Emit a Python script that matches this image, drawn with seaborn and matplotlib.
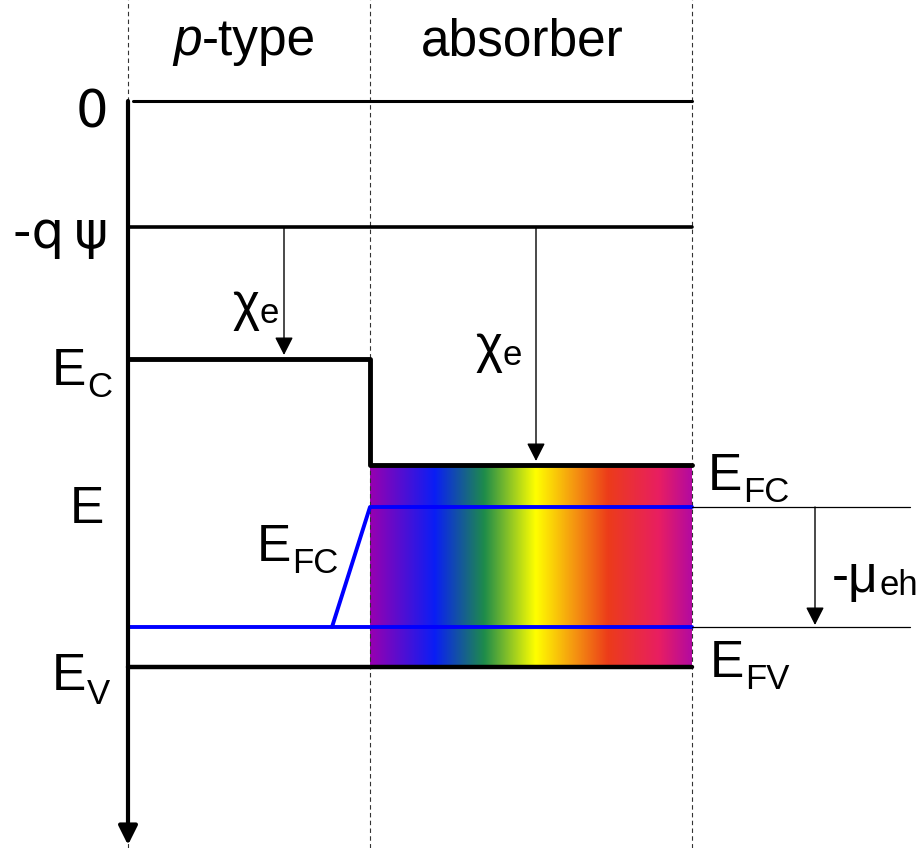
import numpy as np
import pandas as pd
import seaborn as sns
import matplotlib.pyplot as plt
from matplotlib.colors import LinearSegmentedColormap

# ---------------- data (arbitrary energy units, 0 = vacuum) ----------------
regions = ['p-type', 'absorber']
region_edges = [0.0, 2.42, 5.64]      # left edge, interface, right edge
vacuum = 0.0
psi_level = -1.26                     # -q psi
Ec = [-2.58, -3.64]                   # conduction band p-type, absorber
Ev = -5.66                            # valence band (flat)
EFC = -4.06                           # electron quasi Fermi level in absorber
EFV = -5.26                           # hole quasi Fermi level
efc_bend_x = 2.04                     # where EFC leaves EFV in p-type
mu_ext = 7.82                         # right end of thin mu lines
mu_arrow_x = 6.87
chi_x = [1.56, 4.08]                  # chi_e arrows
axis_bottom = -7.44

# rainbow of the absorber
grad_pos = [0.0, 0.20, 0.355, 0.515, 0.63, 0.74, 0.90, 1.0]
grad_col = ['#9800b0', '#0a1ef5', '#1e8c4a', '#ffff00', '#f59a10', '#ec3c1a', '#e81e62', '#b40aa0']

# ---------------- style ----------------
sns.set_style('white')
plt.rcParams['font.family'] = ['Liberation Sans', 'DejaVu Sans']
plt.rcParams['text.color'] = 'black'

fig = plt.figure(figsize=(9.21, 8.48), dpi=100)
ax = fig.add_axes([0, 0, 1, 1])
ax.set_xlim(-1.28, 7.93)
ax.set_ylim(-7.47, 1.01)
ax.axis('off')

x0, xi, x1 = region_edges

# segments for the band lines
segs = pd.DataFrame({
    'seg': ['vac', 'vac', 'psi', 'psi',
            'ec', 'ec', 'ec', 'ec',
            'ev', 'ev',
            'efv', 'efv',
            'efc', 'efc', 'efc',
            'mu1', 'mu1', 'mu2', 'mu2'],
    'x': [x0 + 0.05, x1, x0, x1,
          x0, xi, xi, x1,
          x0, x1,
          x0, x1,
          efc_bend_x, xi, x1,
          x1, mu_ext, x1, mu_ext],
    'E': [vacuum, vacuum, psi_level, psi_level,
          Ec[0], Ec[0], Ec[1], Ec[1],
          Ev, Ev,
          EFV, EFV,
          EFV, EFC, EFC,
          EFC, EFC, EFV, EFV],
})
seg_style = {
    'vac': ('black', 2.2), 'psi': ('black', 2.6), 'ec': ('black', 3.5),
    'ev': ('black', 3.2), 'efv': ('#0000ff', 2.8), 'efc': ('#0000ff', 2.8),
    'mu1': ('black', 0.9), 'mu2': ('black', 0.9),
}

# absorber gradient
cmap = LinearSegmentedColormap.from_list('rainbow_abs', list(zip(grad_pos, grad_col)))
ax.imshow(np.linspace(0, 1, 256)[None, :], cmap=cmap, aspect='auto',
          extent=[xi, x1, Ev, Ec[1]], zorder=1, interpolation='bilinear')

# dashed region boundaries
for xe in region_edges:
    ax.axvline(xe, color='#333333', lw=0.8, ls=(0, (4, 3)), zorder=2)

for name, g in segs.groupby('seg', sort=False):
    c, lw = seg_style[name]
    sns.lineplot(data=g, x='x', y='E', sort=False, estimator=None, color=c,
                 lw=lw, ax=ax, zorder=4, legend=False)

# energy axis arrow
ax.annotate('', xy=(0.0, axis_bottom), xytext=(0.0, vacuum),
            arrowprops=dict(arrowstyle='-|>,head_length=0.6,head_width=0.3',
                            lw=3, color='black', shrinkA=0, shrinkB=0,
                            mutation_scale=19), zorder=5)

thin_arrow = dict(arrowstyle='-|>,head_length=0.55,head_width=0.28',
                  lw=1.0, color='black', shrinkA=0, shrinkB=0, mutation_scale=20)
# chi_e arrows
for xc, ec in zip(chi_x, Ec):
    ax.annotate('', xy=(xc, ec + 0.04), xytext=(xc, psi_level),
                arrowprops=thin_arrow, zorder=5)

# mu arrow
ax.annotate('', xy=(mu_arrow_x, EFV + 0.02), xytext=(mu_arrow_x, EFC),
            arrowprops=thin_arrow, zorder=5)

# ---------------- text ----------------
fs = 37
sub_fs = 25


def sub_label(x, y, main, sub, drop=8.5):
    t = ax.text(x, y, main, ha='left', va='baseline', fontsize=fs)
    ax.annotate(sub, xy=(1, y), xycoords=(t, 'data'), xytext=(0.5, -drop),
                textcoords='offset points', ha='left', va='baseline', fontsize=sub_fs)


ax.text(0.74, 0.46, 'p', ha='right', va='baseline', fontsize=fs, style='italic')
ax.text(0.74, 0.46, regions[0][1:], ha='left', va='baseline', fontsize=fs)
ax.text(3.94, 0.46, regions[1], ha='center', va='baseline', fontsize=fs)

ax.text(-0.20, -0.26, '0', ha='right', va='baseline', fontsize=fs, family=['DejaVu Sans'])
ax.text(-0.20, -1.47, '-q\u2009\u03c8', ha='right', va='baseline', fontsize=fs, family=['DejaVu Sans'])
sub_label(-0.76, -2.84, 'E', 'C')
ax.text(-0.58, -4.22, 'E', ha='left', va='baseline', fontsize=fs)
sub_label(-0.76, -5.89, 'E', 'V', drop=10)

sub_label(1.04, -2.19, '\u03c7', 'e', drop=2)
sub_label(3.47, -2.61, '\u03c7', 'e', drop=2)
sub_label(1.29, -4.60, 'E', 'FC')

sub_label(5.80, -3.89, 'E', 'FC')
sub_label(5.82, -5.76, 'E', 'FV')
sub_label(7.04, -4.91, '-\u03bc', 'eh', drop=2)

fig.savefig('out.png', dpi=100)
